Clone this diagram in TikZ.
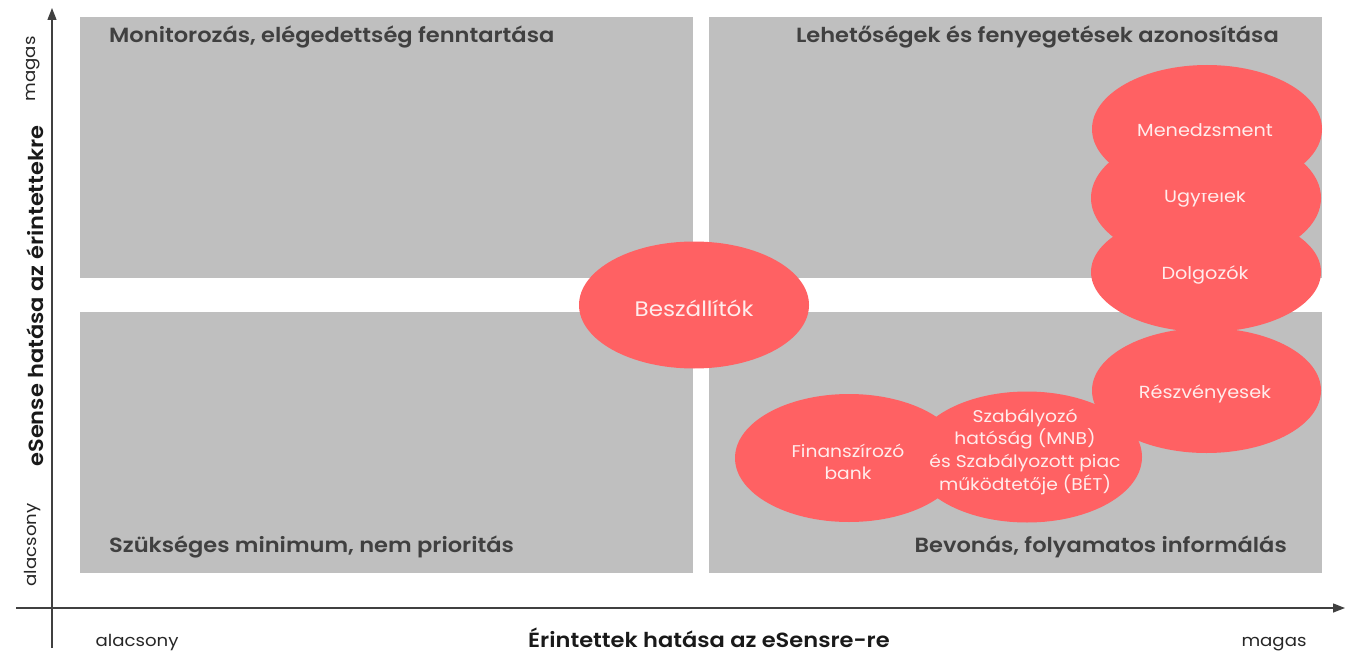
\documentclass[tikz,border=0pt]{standalone}
\usepackage{fontspec}
\setmainfont{Poppins}[FakeStretch=1.1, BoldFont={Poppins SemiBold}]
\usetikzlibrary{shapes.geometric,arrows.meta}
\definecolor{quad}{RGB}{191,191,191}
\definecolor{blob}{RGB}{255,97,99}
\definecolor{ttl}{RGB}{64,64,64}
\definecolor{axis}{RGB}{64,64,64}
\definecolor{btxt}{RGB}{255,236,236}
\tikzset{
  quadbox/.style={fill=quad, draw=none, minimum width=613pt, minimum height=261pt, inner sep=0pt},
  quadtitle/.style={text=ttl, font=\bfseries\fontsize{20.5}{24}\selectfont, inner sep=0pt},
  blobshape/.style={ellipse, fill=blob, draw=none, minimum width=230pt, minimum height=128pt, inner sep=0pt},
  blobtext/.style={text=btxt, anchor=base, inner sep=0pt, font=\fontsize{17.5}{22}\selectfont},
  blobsmall/.style={blobtext, font=\fontsize{17}{22}\selectfont},
  axisline/.style={draw=axis, line width=1.3pt, -{Triangle[length=12pt,width=9pt]}},
  axlabel/.style={text=black!85, font=\fontsize{16.5}{20}\selectfont, inner sep=0pt},
  axtitle/.style={text=black!90, font=\bfseries\fontsize{20.5}{24}\selectfont, inner sep=0pt}
}
\begin{document}
\begin{tikzpicture}[x=1pt,y=-1pt]
\useasboundingbox (0,0) rectangle (1351,655);
% quadrants
\node[quadbox, anchor=north west] (q1) at (80,17) {};
\node[quadbox, anchor=north west] (q2) at (709,17) {};
\node[quadbox, anchor=north west] (q3) at (80,312) {};
\node[quadbox, anchor=north west] (q4) at (709,312) {};
\node[quadtitle, anchor=base west] (t1) at (109,43) {Monitorozás, elégedettség fenntartása};
\node[quadtitle, anchor=base east] (t2) at (1279,43) {Lehetőségek és fenyegetések azonosítása};
\node[quadtitle, anchor=base west] (t3) at (109,552) {Szükséges minimum, nem prioritás};
\node[quadtitle, anchor=base east] (t4) at (1287,552) {Bevonás, folyamatos informálás};
% axes
\coordinate (xs) at (16,608);
\coordinate (xe) at (1345,608);
\coordinate (ys) at (52,648);
\coordinate (ye) at (52,8);
\draw[axisline] (xs) -- (xe);
\draw[axisline] (ys) -- (ye);
\node[axlabel, anchor=base] (xl) at (137,646) {alacsony};
\node[axlabel, anchor=base] (xh) at (1274,646) {magas};
\node[axtitle, anchor=base] (xt) at (709,647) {Érintettek hatása az eSensre-re};
\node[axlabel, rotate=90] (yl) at (33,545) {alacsony};
\node[axlabel, rotate=90] (yh) at (33,69) {magas};
\node[axtitle, rotate=90, font=\bfseries\fontsize{20.5}{24}\selectfont] (yt) at (35,296) {eSense hatása az érintettekre};
% blobs
\node[blobshape, minimum height=127pt] (besz) at (694,305) {};
\node[blobtext, font=\fontsize{21}{24}\selectfont] (beszt) at (694,316) {Beszállítók};
\node[blobshape, minimum width=228pt, minimum height=128pt] (fin) at (849,458) {};
\node[blobsmall] (fin1) at (848,457) {Finanszírozó};
\node[blobsmall] (fin2) at (848,479) {bank};
\node[blobshape, minimum height=131pt] (szab) at (1027,457) {};
\node[blobsmall] (sz1) at (1025,422) {Szabályozó};
\node[blobsmall] (sz2) at (1025,444.5) {hatóság (MNB)};
\node[blobsmall] (sz3) at (1025,467) {és Szabályozott piac};
\node[blobsmall] (sz4) at (1025,490) {működtetője (BÉT)};
\node[blobshape, minimum width=229pt, minimum height=125pt] (resz) at (1206.5,390.5) {};
\node[blobtext] (reszt) at (1205,398) {Részvényesek};
\node[blobshape, minimum height=132pt] (ugy) at (1206,198) {};
\node[blobtext] (ugyt) at (1205,202) {Ügyfelek};
\node[blobshape, minimum height=128pt] (men) at (1207,129) {};
\node[blobtext] (ment) at (1205,137) {Menedzsment};
\node[blobshape, minimum height=120pt] (dol) at (1206,272) {};
\node[blobtext] (dolt) at (1205,279) {Dolgozók};
\end{tikzpicture}
\end{document}
